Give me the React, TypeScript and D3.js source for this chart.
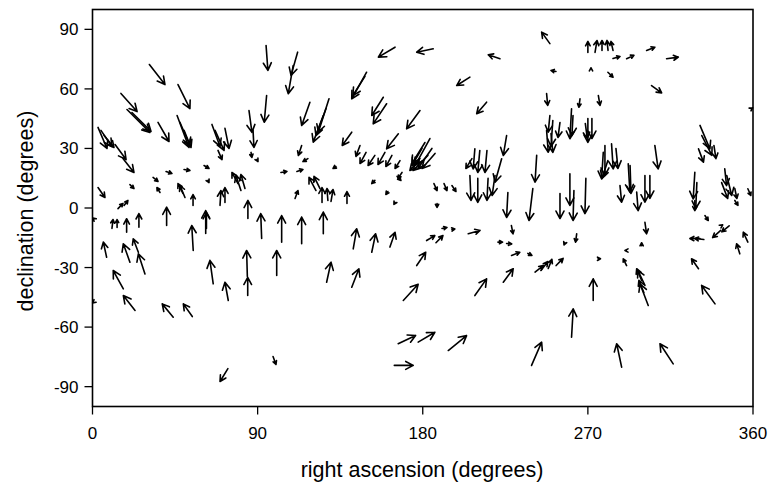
import React from "react";
import * as d3 from "d3";

// each arrow: [ra start, dec start, ra end, dec end] in degrees
const northWest: number[][] = [
  [31, 72.3, 39.5, 62.2], [46.6, 62.2, 53.1, 50.1], [15.5, 57.7, 24.3, 48.6],
  [18.8, 49.6, 31.3, 38.1], [21.5, 48.1, 31.9, 38.6], [35.7, 43.1, 41.7, 33.5],
  [46.1, 46.6, 52.6, 30.5], [47.7, 43.1, 53.1, 31.5], [49.9, 39.1, 53.7, 30.5],
  [3, 40.6, 7.9, 30], [4.6, 39.1, 10.6, 31], [6.3, 36.5, 11.7, 30.5],
  [12.3, 32, 18.3, 24.4], [16.6, 24.9, 22.6, 17.9], [65.1, 42.1, 69.5, 31],
  [66.8, 39.1, 71.7, 29], [72.2, 40.1, 74.4, 30], [68.4, 29, 70.6, 24.4],
  [85.3, 49.1, 86.9, 38.1], [87.5, 39.1, 88, 30.5], [86.4, 28, 86.9, 25.5],
  [89.6, 24.4, 90.2, 23.4], [3, 10.3, 6.8, 5.3], [20.4, 11.8, 22.6, 9.8],
  [33, 15.4, 35.7, 13.4], [40.1, 18.4, 43.3, 17.4], [49.9, 19.4, 53.1, 18.9],
  [60.8, 21.4, 63.5, 19.9], [13.9, -0.3, 16.6, 2.3], [17.2, 1.3, 19.3, 3.8],
  [50.4, 5.3, 47.7, 11.3], [49.3, 7.3, 46.6, 12.3], [36.8, 7.8, 35.1, 10.3],
  [54.8, 1.3, 54.8, 6.8], [69.5, 1.3, 70, 8.8], [72.2, 2.8, 72.2, 10.3],
  [80.9, 8.8, 78.2, 16.4], [83.1, 9.8, 80.9, 16.9], [79.3, 12.3, 76, 17.9],
  [62.9, 13.9, 63.5, 12.8],
];

const northMid: number[][] = [
  [94.6, 81.9, 95.6, 69.3], [111.8, 78.5, 108.2, 66.8], [109.4, 71.8, 106.7, 57.6],
  [94.9, 56.7, 93.6, 43.2], [118.5, 53.3, 114, 41.6], [128.9, 55, 123.1, 38.2],
  [127.3, 50.1, 121.8, 36.5], [125.8, 46.6, 120.3, 33.2], [114, 31.5, 112.2, 26.5],
  [117.4, 24.9, 114.7, 23.4], [141.3, 38.2, 136.1, 31.5], [149.4, 68.4, 141.3, 55],
  [148.5, 66.3, 141.9, 56.7], [158.5, 55.8, 152.2, 46.6], [160.3, 52.5, 153, 42.4],
  [178.5, 49.1, 171.2, 39.9], [164.9, 81, 155.8, 76], [185.7, 80.2, 176.7, 78.5],
  [166.7, 37.4, 160.3, 29.8], [145.8, 31.5, 143.6, 26], [149.1, 28, 145.8, 22.4],
  [153.9, 26.5, 150.2, 21.4], [159.4, 28, 155.6, 21.9], [163.2, 26.5, 159.9, 20.9],
  [167.6, 23.9, 164.9, 19.9], [168.7, 17.9, 166.5, 14.9], [153.9, 13.9, 152.2, 12.3],
  [132.7, 20.9, 131.1, 19.9], [164.9, 2.8, 164.3, 1.8], [161, 8.3, 159.9, 6.8],
  [183.9, 35, 175.8, 21.4], [181.2, 33, 174.1, 22.4], [185, 30, 177.4, 19.9],
  [179.6, 30, 174.1, 21.4], [182.8, 26.5, 174.7, 18.9], [186.7, 27.5, 179.6, 19.9],
  [178.5, 24.9, 173, 18.9], [166, 15.9, 168.1, 13.9], [110.4, 4.8, 112, 8.8],
  [102.7, 17.9, 106, 18.4], [111.4, 18.4, 114.7, 19.4], [121.8, 8.8, 118, 15.4],
  [124, 9.8, 120.7, 15.9], [125.1, 2.8, 125.1, 10.3], [128.3, 3.8, 127.8, 9.8],
  [130, 3.3, 131.1, 9.3], [138.7, 2.3, 138.7, 8.3],
];

const northEast: number[][] = [
  [186.1, 12.3, 187.8, 8.8], [191.6, 12.3, 193.2, 8.8], [195.9, 11.3, 198.1, 8.3],
  [187.8, 2.3, 187.8, 0.3], [222.1, 75.2, 215.7, 77.2], [205.7, 65.9, 198.5, 61.7],
  [214.8, 53.3, 209.4, 47.5], [249.3, 82.8, 244.8, 88.6], [270, 78.4, 270, 83.9],
  [273.9, 78.4, 275, 84.4], [277.7, 79.4, 277.7, 84.4], [281, 79.4, 280.4, 84.4],
  [283.7, 79.4, 282.6, 83.9], [252.6, 68.8, 249.9, 69.3], [271.7, 70.1, 271.7, 70.6],
  [247.5, 57.6, 248.1, 51.7], [265.7, 55, 265.1, 50.8], [275.7, 56.7, 276.6, 51.7],
  [283.7, 75.3, 287.5, 76.3], [291.1, 75.2, 295.1, 76.9], [302, 79.4, 306.5, 81],
  [312.9, 75.2, 319.3, 76], [280.9, 68.4, 283.7, 65.9], [304.7, 61.7, 310.2, 58],
  [359, 50, 359.8, 50.5], [249.3, 46.6, 248.4, 38.2], [250.9, 44.1, 249.9, 31],
  [254.8, 43.1, 253.7, 35.5], [261.1, 50, 260.2, 34.9], [261.9, 46.6, 261.3, 36.5],
  [247.5, 39.1, 248.4, 28.1], [249.9, 37.5, 250.9, 28], [270, 45.1, 270, 33],
  [272.2, 45.1, 272.2, 35], [268.6, 42.6, 269.7, 35], [225.7, 36.5, 223.9, 26.5],
  [208.4, 29.8, 207.5, 19.7], [211.1, 29, 210, 17.9], [215, 29, 213.9, 17.9],
  [206.8, 24.9, 203.5, 19.9], [223, 24.8, 219.4, 13], [205.7, 16.4, 206.3, 3.8],
  [210, 14.9, 210, 2.8], [215.6, 14.9, 215, 3.8], [219.4, 16.4, 217.8, 6.3],
  [242.1, 26.5, 241.2, 13], [240, 9.8, 237.9, -6.3], [260.2, 17.2, 260.2, 1.3],
  [262.4, 8.8, 261.9, -6.3], [268.9, 14.9, 268.4, -2.8], [254.8, 7.3, 254.8, -5.3],
  [278.4, 28.1, 277.5, 14.7], [226.4, 7.8, 225.7, -4.8], [331.1, 41.6, 336.5, 29.8],
  [332.1, 36.5, 337.6, 26.5], [330.3, 29.8, 333, 23.1], [338.7, 31.5, 339.8, 24.9],
  [306.5, 31.5, 308.3, 19.7], [279.3, 31.5, 279.3, 16.4], [282.9, 32.3, 283.8, 19.7],
  [285.3, 30, 286.4, 19.9], [280.9, 23.9, 277.7, 14.9], [292, 22.3, 292.9, 8],
  [293, 21.4, 293.5, 7.3], [301.1, 16.4, 301.1, 2.9], [303.8, 16.4, 303.8, 4.8],
  [296.6, 8, 297.4, -1.3], [287.5, 11.3, 288.4, 2.9], [328.3, 18, 327.4, 4.6],
  [329.4, 12.8, 328.8, -0.3], [344.6, 19.7, 345.6, 11.3], [345.7, 16.4, 348.4, 6.3],
  [342.9, 12.8, 346.2, 4.8], [350.1, 9.8, 351.2, 4.8], [357.2, 9.7, 358.8, 6.3],
  [328.3, 3.8, 328.3, -1.3], [333.8, -3.8, 335.6, -6.3], [350.1, 3.8, 351.8, 1.3],
  [301.1, -7.2, 302, -13],
];

const south: number[][] = [
  [0.8, -5.5, 0.2, -5], [0.5, -47.5, 0.1, -47.8], [10.6, -10.3, 11.2, -5.8],
  [13.4, -9.8, 13.4, -5.8], [18.6, -12.2, 18.6, -5.4], [25.3, -9.7, 25.3, -2.8],
  [40.4, -8.8, 40.4, 0.4], [54.9, -21.4, 54.1, -8.8], [61.7, -12.8, 61.7, -1.3],
  [62.1, -10.3, 62.1, -2.3], [84.7, -5.3, 84.7, 3.8], [92.2, -15.4, 91.7, -2.8],
  [7.7, -24.8, 5.9, -17.2], [20.4, -27.3, 16.8, -18], [25, -22.3, 22.2, -15.5],
  [28.6, -33.2, 25, -23.1], [16.8, -40.7, 11.3, -31.5], [23.2, -51.6, 16.8, -44.1],
  [44, -55, 38, -48.3], [54.4, -54.7, 49.5, -48.3], [65.8, -38.2, 64, -26.4],
  [74, -46.6, 72.2, -37.4], [84.6, -44.1, 84.6, -34.9], [84.4, -34.5, 84, -21.4],
  [73.8, -80.9, 69.5, -87.4], [103.1, -17.2, 103.1, -3.8], [114, -18, 114, -4.6],
  [125.8, -13, 125.8, -2.1], [100.4, -34, 100.4, -21.4], [142.1, -20.6, 144, -10.5],
  [152.2, -22.3, 154.3, -13], [162.1, -19.7, 164.9, -12.2], [127.6, -37.4, 130, -27.3],
  [141.3, -39.9, 145.2, -30.6], [176.7, -29, 181.6, -22.3], [182.1, -16.4, 186.6, -13.9],
  [187.2, -17.5, 191, -13.9], [190.5, -10.3, 193.2, -9.8], [195.9, -10.8, 197.5, -10.6],
  [204.8, -13, 211.2, -11.3], [169.4, -46.6, 177.5, -38.4], [166.6, -68.4, 176.1, -64.2],
  [177.5, -67.6, 186.6, -62.6], [164.5, -79.3, 174.8, -79.3], [98.4, -74.8, 100, -78.8],
  [193.9, -71.8, 203.9, -64.3], [208.4, -44.1, 214.8, -35.7], [223.9, -37.4, 229.3, -30.6],
  [239.3, -79.3, 244.8, -67.6], [228.3, -8.8, 229.2, -13], [263.9, -13, 263.3, -17.2],
  [257.5, -17.5, 257, -18.6], [221, -17.2, 223.5, -17.2], [225.7, -17.9, 228.5, -18.1],
  [228.4, -23.9, 232.9, -22.3], [237.3, -22.9, 239.5, -23.9], [241.2, -32.3, 245.7, -29],
  [244.4, -31.5, 248.2, -27], [248.4, -30.5, 250.4, -25.9], [252.7, -29, 256.5, -25.4],
  [275.6, -25.6, 276.9, -25.6], [272.9, -46.6, 272.9, -35.7], [261.1, -65.1, 262, -50.8],
  [299.3, -19, 299.3, -17.5], [291, -21.4, 290.2, -21.4], [331.1, -15.4, 325.6, -15.4],
  [333.2, -15.9, 328.3, -15.4], [342.4, -11.3, 338, -14.9], [347, -9, 343, -12],
  [343, -8.8, 343.5, -8.5], [357.2, -17.2, 354.7, -12.2], [352.8, -23.1, 351.1, -18],
  [291.1, -29, 289.3, -25.6], [299.3, -36.5, 296.6, -30.6], [301.1, -39, 297.3, -31.5],
  [302.9, -49.1, 298.4, -38.2], [300.5, -42.6, 297.8, -36.5], [330.3, -30.6, 326.5, -25.6],
  [339.3, -48.3, 332, -39], [288.4, -80.2, 285.7, -68.4], [316.5, -78.5, 309.3, -68.4],
];

const xTicks = [0, 90, 180, 270, 360];
const yTicks = [-90, -60, -30, 0, 30, 60, 90];

const W = 769;
const H = 483;
const left = 92.5, right = 753, top = 9.5, bottom = 406.5;

export default function App() {
  const x = d3.scaleLinear().domain([0, 360]).range([left, right]);
  const y = d3.scaleLinear().domain([-100, 100]).range([bottom, top]);
  const all = [...northWest, ...northMid, ...northEast, ...south];

  const arrowPath = (d: number[]) => {
    const x0 = x(d[0]), y0 = y(d[1]), x1 = x(d[2]), y1 = y(d[3]);
    const dx = x1 - x0, dy = y1 - y0;
    const len = Math.hypot(dx, dy) || 1;
    const hl = Math.min(8.5, Math.max(3.5, len * 0.45));
    const ang = Math.atan2(dy, dx);
    const a = (28 * Math.PI) / 180;
    const p = d3.path();
    p.moveTo(x0, y0);
    p.lineTo(x1, y1);
    p.moveTo(x1 - hl * Math.cos(ang - a), y1 - hl * Math.sin(ang - a));
    p.lineTo(x1, y1);
    p.lineTo(x1 - hl * Math.cos(ang + a), y1 - hl * Math.sin(ang + a));
    return p.toString();
  };

  const font = "'Liberation Sans', Arial, sans-serif";

  return (
    <svg width={W} height={H} style={{ position: "absolute", left: 0, top: 0, background: "#fff" }}>
      <rect x={left} y={top} width={right - left} height={bottom - top} fill="none" stroke="#000" strokeWidth={1.6} />
      {xTicks.map((t) => (
        <g key={"x" + t}>
          <line x1={x(t)} x2={x(t)} y1={bottom} y2={bottom + 8} stroke="#000" strokeWidth={1.3} />
          <text x={x(t)} y={bottom + 32} textAnchor="middle" fontFamily={font} fontSize={17}>{t}</text>
        </g>
      ))}
      {yTicks.map((t) => (
        <g key={"y" + t}>
          <line x1={left - 8} x2={left} y1={y(t)} y2={y(t)} stroke="#000" strokeWidth={1.3} />
          <text x={left - 14} y={y(t) + 6} textAnchor="end" fontFamily={font} fontSize={17}>{t}</text>
        </g>
      ))}
      <text x={422} y={477} textAnchor="middle" fontFamily={font} fontSize={21.5}>right ascension (degrees)</text>
      <text transform={`translate(33,211) rotate(-90)`} textAnchor="middle" fontFamily={font} fontSize={21.5}>declination (degrees)</text>
      <g fill="none" stroke="#000" strokeWidth={1.6} strokeLinecap="round" strokeLinejoin="round">
        {all.map((d, i) => (
          <path key={i} d={arrowPath(d)} />
        ))}
      </g>
    </svg>
  );
}
